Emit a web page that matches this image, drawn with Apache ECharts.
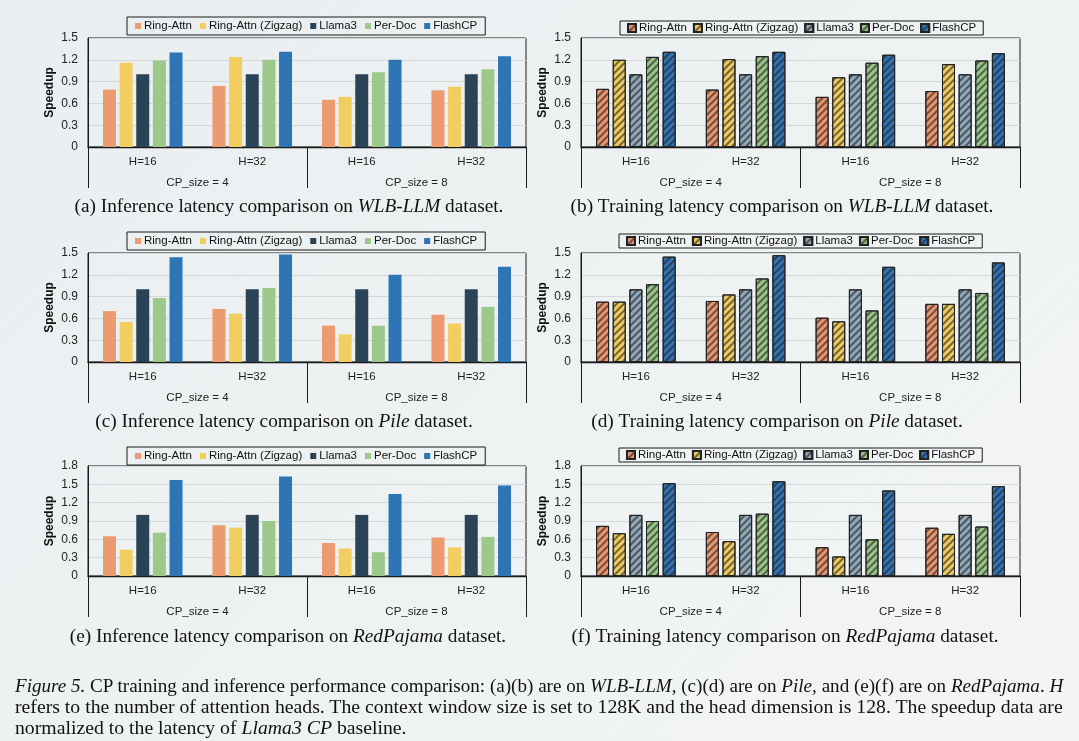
<!DOCTYPE html>
<html><head><meta charset="utf-8">
<script src="https://cdn.jsdelivr.net/npm/echarts@6/dist/echarts.min.js"></script>
<style>
html,body{margin:0;padding:0;}
body{width:1079px;height:741px;background:linear-gradient(135deg,#eaeef0 0%,#eef2f3 55%,#f4f5f5 100%);position:relative;overflow:hidden;}
#chart{position:absolute;left:0;top:0;width:1079px;height:741px;}
.cap{position:absolute;left:15px;font-family:'Liberation Serif','Times New Roman',serif;font-size:19.5px;line-height:21px;color:#111;white-space:nowrap;transform-origin:0 50%;}
</style></head><body>
<div id="chart"></div>
<div class="cap" id="cl1" style="top:675px"><i>Figure 5.</i> CP training and inference performance comparison: (a)(b) are on <i>WLB-LLM</i>, (c)(d) are on <i>Pile</i>, and (e)(f) are on <i>RedPajama</i>. <i>H</i></div>
<div class="cap" id="cl2" style="top:696px">refers to the number of attention heads. The context window size is set to 128K and the head dimension is 128. The speedup data are</div>
<div class="cap" id="cl3" style="top:717px">normalized to the latency of <i>Llama3 CP</i> baseline.</div>
<script>
// ---- data ----
const methods = ['Ring-Attn', 'Ring-Attn (Zigzag)', 'Llama3', 'Per-Doc', 'FlashCP'];
const hLabels = ['H=16', 'H=32', 'H=16', 'H=32'];
const cpLabels = ['CP_size = 4', 'CP_size = 8'];
const yMaxes = [1.5, 1.5, 1.5, 1.5, 1.8, 1.8];
const yStep = 0.3;

// rows: Ring-Attn, Zigzag, Llama3, Per-Doc, FlashCP ; columns: CP4 H16, CP4 H32, CP8 H16, CP8 H32
const infWLB = [
  [0.79, 0.84, 0.65, 0.78],
  [1.16, 1.24, 0.69, 0.83],
  [1.00, 1.00, 1.00, 1.00],
  [1.19, 1.20, 1.03, 1.07],
  [1.30, 1.31, 1.20, 1.25]
];
const trainWLB = [
  [0.80, 0.79, 0.69, 0.77],
  [1.20, 1.21, 0.96, 1.14],
  [1.00, 1.00, 1.00, 1.00],
  [1.24, 1.25, 1.16, 1.19],
  [1.31, 1.31, 1.27, 1.29]
];
const infPile = [
  [0.70, 0.73, 0.50, 0.65],
  [0.55, 0.665, 0.38, 0.53],
  [1.00, 1.00, 1.00, 1.00],
  [0.88, 1.02, 0.50, 0.76],
  [1.44, 1.48, 1.20, 1.31]
];
const trainPile = [
  [0.83, 0.84, 0.61, 0.80],
  [0.83, 0.93, 0.56, 0.80],
  [1.00, 1.00, 1.00, 1.00],
  [1.07, 1.15, 0.71, 0.95],
  [1.45, 1.47, 1.31, 1.37]
];
const infRed = [
  [0.65, 0.83, 0.54, 0.63],
  [0.43, 0.79, 0.45, 0.47],
  [1.00, 1.00, 1.00, 1.00],
  [0.71, 0.90, 0.39, 0.64],
  [1.57, 1.63, 1.34, 1.48]
];
const trainRed = [
  [0.82, 0.72, 0.47, 0.79],
  [0.70, 0.57, 0.32, 0.69],
  [1.00, 1.00, 1.00, 1.00],
  [0.90, 1.02, 0.60, 0.81],
  [1.52, 1.55, 1.40, 1.47]
];

// ---- styles / layout ----
const infColors = ['#EC9A6F', '#F2CD60', '#2A4356', '#9DC88B', '#2E75B6'];
const trainColors = ['#E9946C', '#EFCB5E', '#90A8B9', '#98C487', '#3072B3'];
const FONT = "'Liberation Sans', Arial, sans-serif";
const SERIF = "'Liberation Serif', 'Times New Roman', serif";

const panels = [
  { data: infWLB,   train: false, left: 88,  top: 38,  width: 438, height: 109, lgLeft: 127, lgTop: 17,  cap: ['(a) Inference latency comparison on ', 'WLB-LLM', ' dataset.'], capX: 289, capY: 198 },
  { data: trainWLB, train: true,  left: 581, top: 38,  width: 439, height: 109, lgLeft: 620, lgTop: 21,  cap: ['(b) Training latency comparison on ', 'WLB-LLM', ' dataset.'], capX: 782, capY: 198 },
  { data: infPile,  train: false, left: 88,  top: 253, width: 438, height: 109, lgLeft: 127, lgTop: 232, cap: ['(c) Inference latency comparison on ', 'Pile', ' dataset.'], capX: 284, capY: 413 },
  { data: trainPile,train: true,  left: 581, top: 253, width: 439, height: 109, lgLeft: 619, lgTop: 234, cap: ['(d) Training latency comparison on ', 'Pile', ' dataset.'], capX: 777, capY: 413 },
  { data: infRed,   train: false, left: 88,  top: 466, width: 438, height: 110, lgLeft: 127, lgTop: 447, cap: ['(e) Inference latency comparison on ', 'RedPajama', ' dataset.'], capX: 288, capY: 628 },
  { data: trainRed, train: true,  left: 581, top: 466, width: 439, height: 110, lgLeft: 619, lgTop: 448, cap: ['(f) Training latency comparison on ', 'RedPajama', ' dataset.'], capX: 785, capY: 628 }
];

const hatch = {
  symbol: 'rect', symbolSize: 1,
  dashArrayX: [1, 0], dashArrayY: [1.6, 2.6],
  rotation: -Math.PI / 4,
  color: 'rgba(35,35,35,0.62)'
};

const grids = [], xAxes = [], yAxes = [], series = [], legends = [], titles = [];
panels.forEach((p, i) => {
  grids.push({ left: p.left, top: p.top, width: p.width, height: p.height, show: true,
    borderColor: '#1a1a1a', borderWidth: 1, backgroundColor: 'transparent' });
  xAxes.push({ type: 'category', gridIndex: i, data: hLabels, position: 'bottom',
    axisLine: { show: true, lineStyle: { color: '#1a1a1a', width: 1.3 } },
    axisTick: { show: false },
    axisLabel: { margin: 9, fontSize: 11.5, fontFamily: FONT, color: '#222' } });
  xAxes.push({ type: 'category', gridIndex: i, data: cpLabels, position: 'bottom',
    axisLine: { show: false },
    axisTick: { show: true, length: 41, lineStyle: { color: '#1a1a1a', width: 1 } },
    axisLabel: { margin: 30, fontSize: 11.5, fontFamily: FONT, color: '#222' } });
  yAxes.push({ type: 'value', gridIndex: i, min: 0, max: yMaxes[i], interval: yStep,
    name: 'Speedup', nameLocation: 'middle', nameGap: 32,
    nameTextStyle: { fontSize: 12, fontWeight: 'bold', fontFamily: FONT, color: '#111' },
    axisLine: { show: true, lineStyle: { color: '#1a1a1a', width: 1 } },
    axisTick: { show: false },
    splitLine: { show: true, lineStyle: { color: '#d4d7d8', width: 1 } },
    axisLabel: { margin: 10, fontSize: 12, fontFamily: FONT, color: '#222',
      formatter: v => String(+v.toFixed(1)) } });
  const suffix = p.train ? '\u200b' : '';
  const names = methods.map(m => m + suffix);
  p.data.forEach((vals, k) => {
    const itemStyle = p.train
      ? { color: trainColors[k], borderColor: '#222', borderWidth: 1, decal: hatch }
      : { color: infColors[k] };
    series.push({ type: 'bar', name: names[k], xAxisIndex: 2 * i, yAxisIndex: i,
      data: vals, barWidth: 13, barGap: '28%', itemStyle: itemStyle, emphasis: { disabled: true } });
  });
  legends.push({ data: names, left: p.lgLeft, top: p.lgTop, orient: 'horizontal',
    icon: 'rect', itemWidth: p.train ? 8 : 6, itemHeight: p.train ? 8 : 6, itemGap: p.train ? 6 : 8,
    padding: p.train ? [1, 7] : [3, 8], borderColor: '#1a1a1a', borderWidth: 1,
    selectedMode: false,
    textStyle: { fontSize: 11.5, fontFamily: FONT, color: '#111', padding: [0, 0, 0, -2] } });
  titles.push({ text: p.cap[0] + '{i|' + p.cap[1] + '}' + p.cap[2], left: p.capX, top: p.capY - 1,
    textAlign: 'center', padding: 0,
    textStyle: { fontFamily: SERIF, fontSize: 19.3, fontWeight: 'normal', color: '#111',
      rich: { i: { fontFamily: SERIF, fontSize: 19.3, fontStyle: 'italic', color: '#111' } } } });
});

const chart = echarts.init(document.getElementById('chart'));
chart.setOption({
  animation: false,
  backgroundColor: 'transparent',
  title: titles,
  legend: legends,
  grid: grids,
  xAxis: xAxes,
  yAxis: yAxes,
  series: series
});

// fit caption lines to the figure width (condensed serif as in the reference)
function fitCaption() {
  const l1 = document.getElementById('cl1'), l2 = document.getElementById('cl2'), l3 = document.getElementById('cl3');
  const target = 1048;
  const s1 = target / l1.offsetWidth, s2 = target / l2.offsetWidth;
  l1.style.transform = 'scaleX(' + s1 + ')';
  l2.style.transform = 'scaleX(' + s2 + ')';
  l3.style.transform = 'scaleX(' + s2 + ')';
}
fitCaption();
if (document.fonts && document.fonts.ready) document.fonts.ready.then(fitCaption);
</script>
</body></html>
